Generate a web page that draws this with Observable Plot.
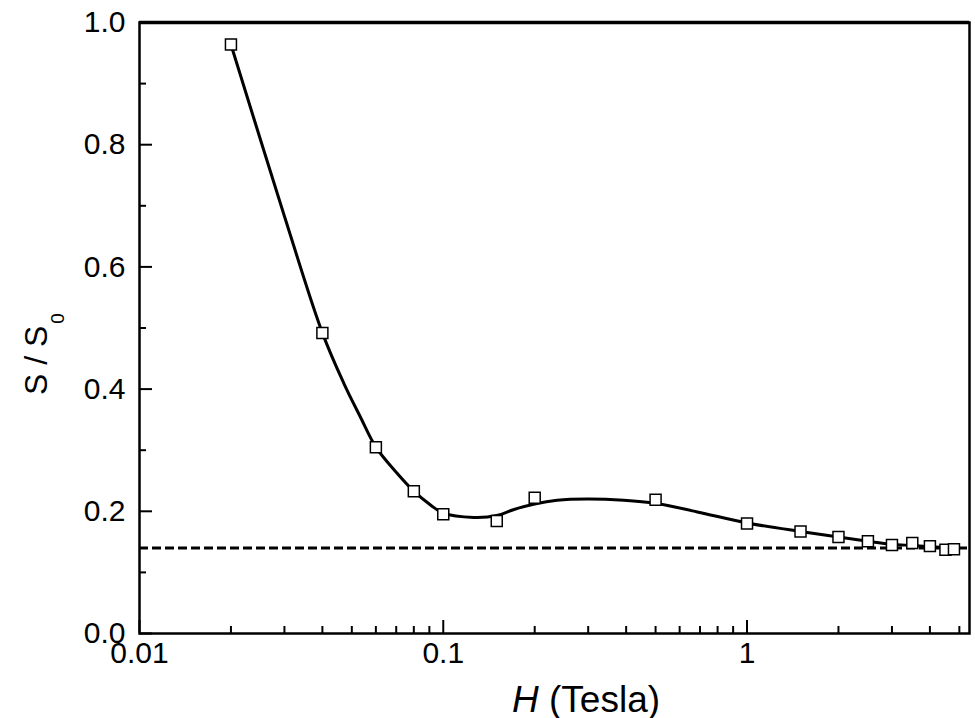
<!DOCTYPE html>
<html>
<head>
<meta charset="utf-8">
<script src="https://cdn.jsdelivr.net/npm/d3@7"></script>
<script src="https://cdn.jsdelivr.net/npm/@observablehq/plot@0.6"></script>
<style>
  html, body { margin: 0; padding: 0; background: white; }
  svg { display: block; }
</style>
</head>
<body>
<script>
// Measured data points (open squares)
const fieldH = [0.02, 0.04, 0.06, 0.08, 0.1, 0.15, 0.2, 0.5, 1, 1.5, 2, 2.5, 3, 3.5, 4, 4.5, 4.8];
const ratioS = [0.964, 0.492, 0.305, 0.233, 0.195, 0.184, 0.222, 0.219, 0.180, 0.167, 0.158, 0.151, 0.145, 0.148, 0.143, 0.137, 0.138];

// Smooth guide curve
const fitH = [0.02, 0.03, 0.04, 0.0471, 0.0534, 0.06, 0.07, 0.08, 0.091, 0.1, 0.126, 0.15, 0.171, 0.2, 0.237, 0.298, 0.393, 0.5, 0.686, 1, 1.5, 2, 2.5, 3, 3.5, 4, 4.8];
const fitS = [0.964, 0.683, 0.492, 0.409, 0.354, 0.305, 0.264, 0.233, 0.210, 0.197, 0.190, 0.193, 0.203, 0.212, 0.218, 0.220, 0.218, 0.213, 0.199, 0.181, 0.167, 0.158, 0.151, 0.146, 0.144, 0.142, 0.140];

// Saturation level (dashed line)
const baseline = [0.14];

// Axes
const xDomain = [0.01, 5.4];
const yDomain = [0, 1];
const xMajor = [0.01, 0.1, 1];
const xMajorLabels = ["0.01", "0.1", "1"];
const xMinor = [0.02, 0.03, 0.04, 0.05, 0.06, 0.07, 0.08, 0.09, 0.2, 0.3, 0.4, 0.5, 0.6, 0.7, 0.8, 0.9, 2, 3, 4, 5];
const yMajor = [0, 0.2, 0.4, 0.6, 0.8, 1.0];
const yMajorLabels = ["0.0", "0.2", "0.4", "0.6", "0.8", "1.0"];
const yMinor = [0.1, 0.3, 0.5, 0.7, 0.9];
const xTitleItalic = "H";
const xTitleRest = " (Tesla)";
const yTitle = "S / S";
const yTitleSub = "0";

const points = fieldH.map((h, i) => ({h, s: ratioS[i]}));
const fit = fitH.map((h, i) => ({h, s: fitS[i]}));
const xTicksMajor = xMajor.map((v, i) => ({v, label: xMajorLabels[i]}));
const yTicksMajor = yMajor.map((v, i) => ({v, label: yMajorLabels[i]}));

const W = 975, H = 718;
const mL = 139, mR = 6, mT = 22, mB = 85;
const plotW = W - mL - mR, plotH = H - mT - mB;
const font = "'Liberation Sans', Arial, sans-serif";

const chart = Plot.plot({
  width: W,
  height: H,
  marginLeft: mL,
  marginRight: mR,
  marginTop: mT,
  marginBottom: mB,
  style: {fontFamily: font, background: "white", color: "black", overflow: "visible"},
  x: {type: "log", domain: xDomain, axis: null},
  y: {domain: yDomain, axis: null},
  marks: [
    Plot.ruleY(baseline, {stroke: "black", strokeWidth: 3, strokeDasharray: "9,4"}),
    Plot.line(fit, {x: "h", y: "s", curve: "catmull-rom", stroke: "black", strokeWidth: 3}),
    Plot.dot(points, {x: "h", y: "s", symbol: "square", r: 6.2, fill: "white", stroke: "black", strokeWidth: 1.5}),
    // inward ticks
    Plot.tickY(yMajor, {y: d => d, stroke: "black", strokeWidth: 2, insetRight: plotW - 13}),
    Plot.tickY(yMinor, {y: d => d, stroke: "black", strokeWidth: 2, insetRight: plotW - 7}),
    Plot.tickX(xMajor, {x: d => d, stroke: "black", strokeWidth: 2, insetTop: plotH - 13}),
    Plot.tickX(xMinor, {x: d => d, stroke: "black", strokeWidth: 2, insetTop: plotH - 7}),
    // frame
    Plot.frame({stroke: "black", strokeWidth: 2.5}),
    Plot.ruleY([yDomain[1]], {stroke: "black", strokeWidth: 3.5}),
    // tick labels
    Plot.text(yTicksMajor, {y: "v", text: "label", frameAnchor: "left", textAnchor: "end", dx: -14, fontSize: 30, fill: "black"}),
    Plot.text(xTicksMajor, {x: "v", text: "label", frameAnchor: "bottom", dy: 29, fontSize: 30, fill: "black"})
  ]
});

// Axis titles (mixed styles: italic symbol and subscript)
const svg = d3.select(chart);
const xt = svg.append("text")
  .attr("x", 512).attr("y", 712)
  .attr("text-anchor", "start")
  .attr("font-family", font).attr("font-size", 37).attr("fill", "black");
xt.append("tspan").attr("font-style", "italic").text(xTitleItalic);
xt.append("tspan").style("white-space", "pre").text(xTitleRest);

const yt = svg.append("text")
  .attr("transform", "translate(47,395) rotate(-90)")
  .attr("font-family", font).attr("font-size", 32).attr("fill", "black")
  .attr("text-anchor", "start");
yt.append("tspan").text(yTitle);
yt.append("tspan").attr("font-size", 19).attr("dx", 2).attr("dy", 17).text(yTitleSub);

document.body.appendChild(chart);
</script>
</body>
</html>
